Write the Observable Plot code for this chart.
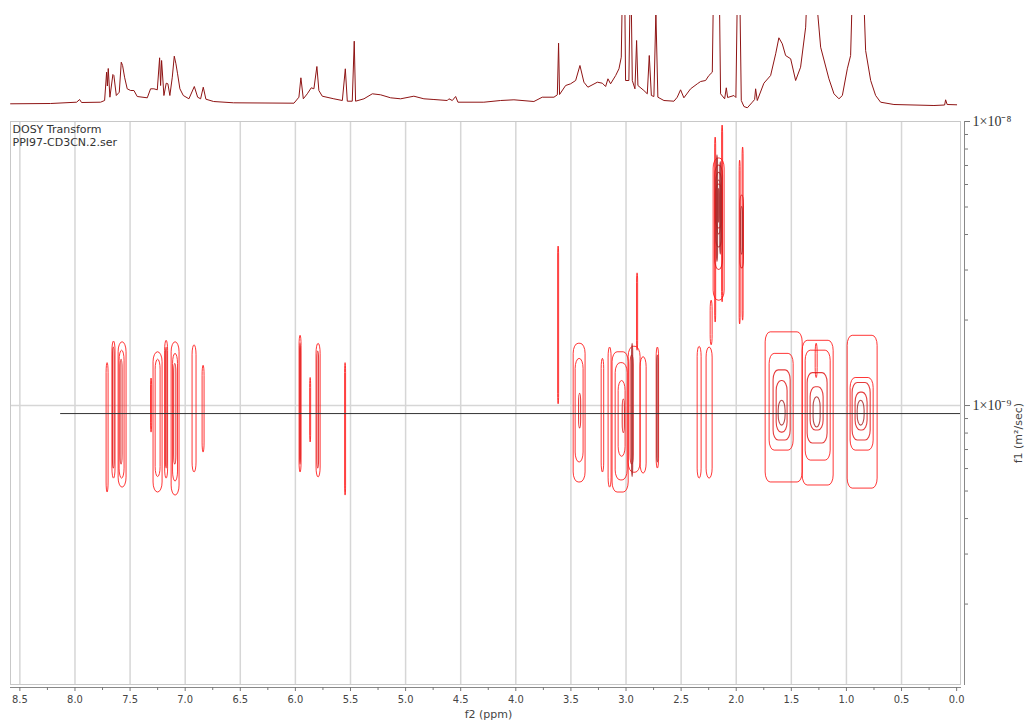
<!DOCTYPE html>
<html><head><meta charset="utf-8">
<script src="https://cdn.jsdelivr.net/npm/d3@7"></script>
<script src="https://cdn.jsdelivr.net/npm/@observablehq/plot@0.6"></script>
<style>
body{margin:0;background:#fff;}
#wrap{position:relative;width:1027px;height:722px;overflow:hidden;background:#fff;}
#top{position:absolute;left:0;top:0;}
#main{position:absolute;left:0;top:100px;}
</style></head><body><div id="wrap"><div id="top"></div><div id="main"></div></div>
<script>
// ---- 1D projection spectrum (f2 ppm, relative intensity) ----
const spectrumPpm = [8.584,8.221,7.985,7.958,7.940,7.768,7.731,7.713,7.706,7.698,7.683,7.656,7.647,7.625,7.598,7.580,7.568,7.550,7.526,7.495,7.465,7.435,7.344,7.314,7.284,7.253,7.232,7.223,7.214,7.193,7.172,7.157,7.139,7.117,7.099,7.084,7.069,7.048,7.017,6.966,6.917,6.887,6.860,6.836,6.812,6.742,6.561,6.013,5.968,5.950,5.928,5.892,5.856,5.832,5.805,5.787,5.756,5.651,5.574,5.547,5.529,5.484,5.466,5.454,5.378,5.302,5.227,5.136,5.045,4.925,4.834,4.743,4.622,4.607,4.576,4.546,4.525,4.290,4.138,4.017,3.836,3.760,3.654,3.623,3.612,3.603,3.548,3.503,3.457,3.418,3.382,3.346,3.260,3.215,3.185,3.164,3.140,3.094,3.064,3.043,3.028,3.015,3.004,2.974,2.958,2.943,2.919,2.904,2.892,2.838,2.807,2.789,2.770,2.747,2.729,2.711,2.656,2.565,2.535,2.505,2.475,2.414,2.353,2.323,2.278,2.248,2.217,2.202,2.180,2.157,2.142,2.105,2.090,2.078,2.021,2.003,1.985,1.972,1.954,1.930,1.899,1.854,1.833,1.824,1.809,1.749,1.688,1.642,1.613,1.582,1.552,1.506,1.461,1.416,1.370,1.343,1.307,1.234,1.159,1.113,1.068,1.037,0.992,0.962,0.937,0.856,0.826,0.780,0.735,0.690,0.569,0.206,0.109,0.100,0.086,0.000];
const spectrumHeight = [0.2,0.5,1.8,4.5,1.5,1.8,3.5,31.8,18,35.5,6.8,29.5,28.5,8.5,11.8,41.8,38.5,26.8,15.2,13.5,13.5,7.5,6.2,15.2,15.2,14.2,46.2,18.5,43.5,8.5,20.8,20.2,8.5,26.8,47.8,40.2,30.2,15.2,8.5,5.2,17.5,6.8,5.2,16.8,4.8,2.5,1.2,0.8,6.8,26.2,5.2,10.2,16.2,15.2,37.5,13.5,7.8,5.2,3.5,35.2,2.8,2.8,62.8,2.8,5.2,10.2,9.2,6.2,5.2,7.8,5.2,4.5,3.5,5.2,3.5,7.5,1.8,1.8,3.5,4.2,2.5,6.8,6.8,9.2,60.8,9.5,18.5,20.2,23.5,38.5,21.8,16.8,21.8,20.8,17.5,25.2,20.2,28.5,35.2,46.8,150,150,23.5,23.5,150,23.5,15.2,63.5,18.5,13.5,10.2,48.5,8.5,7.5,92,6.8,3.5,2.8,6.8,14.2,6.2,15.2,20.2,22.5,23.5,28.5,31.8,150,150,150,10.2,5.2,16.2,6.5,8.5,6.5,150,150,3.5,-2.5,-3.8,1.8,4.5,15.2,3.5,20.8,28.5,50.2,66.2,60.2,48.5,45.2,23.5,36.8,76.8,150,150,56.8,25.2,10.2,5.2,8.5,35.2,48.5,150,150,53.5,23.5,8.5,1.8,-0.5,-1.5,-1,4.2,-0.5,-0.8];

// ---- DOSY contours: [ppm left, ppm right, D high (m2/s), D low (m2/s), contour level] ----
const contourLoops = [
  // 7.7 - 7.5 ppm
  [7.713,7.695,1.41e-9,0.494e-9,1],[7.660,7.632,1.68e-9,0.553e-9,1],[7.655,7.640,1.60e-9,0.60e-9,2],
  [7.604,7.532,1.67e-9,0.514e-9,1],[7.595,7.550,1.56e-9,0.553e-9,1],[7.586,7.568,1.45e-9,0.62e-9,2],
  // 7.3 - 6.8 ppm
  [7.310,7.300,1.245e-9,0.803e-9,1],[7.287,7.205,1.54e-9,0.494e-9,1],[7.268,7.223,1.45e-9,0.56e-9,1],
  [7.182,7.155,1.69e-9,0.553e-9,1],[7.175,7.162,1.60e-9,0.60e-9,2],[7.123,7.051,1.67e-9,0.482e-9,1],
  [7.110,7.065,1.52e-9,0.54e-9,1],[7.100,7.080,1.40e-9,0.62e-9,2],[6.933,6.897,1.63e-9,0.581e-9,1],
  [6.842,6.824,1.38e-9,0.683e-9,1],
  // 6.0 - 5.5 ppm
  [5.962,5.944,1.76e-9,0.581e-9,1],[5.957,5.949,1.65e-9,0.62e-9,2],[5.866,5.857,1.25e-9,0.741e-9,1],
  [5.808,5.771,1.65e-9,0.558e-9,1],[5.800,5.785,1.55e-9,0.60e-9,2],[5.549,5.540,1.41e-9,0.482e-9,1],
  // 3.6 - 2.2 ppm
  [3.616,3.607,3.63e-9,1.01e-9,1],[3.475,3.367,1.65e-9,0.536e-9,1],[3.457,3.385,1.46e-9,0.630e-9,1],
  [3.426,3.407,1.10e-9,0.830e-9,2],[3.221,3.198,1.46e-9,0.581e-9,1],[3.158,3.131,1.60e-9,0.514e-9,1],
  [3.122,2.976,1.54e-9,0.494e-9,1],[3.094,2.985,1.41e-9,0.545e-9,1],[3.067,3.004,1.22e-9,0.66e-9,1],
  [3.030,3.010,1.05e-9,0.80e-9,2],[2.976,2.868,1.61e-9,0.58e-9,1],[2.958,2.930,1.50e-9,0.62e-9,2],
  [2.945,2.935,1.65e-9,0.56e-9,3],[2.900,2.890,2.92e-9,1.56e-9,1],[2.868,2.813,1.48e-9,0.576e-9,1],
  [2.722,2.700,1.60e-9,0.600e-9,1],[2.717,2.705,1.50e-9,0.63e-9,3],[2.350,2.314,1.61e-9,0.553e-9,1],
  [2.269,2.214,1.60e-9,0.553e-9,1],[2.232,2.214,2.34e-9,1.63e-9,1],
  // 2.2 ppm (fast diffusing)
  [2.191,2.182,8.78e-9,1.96e-9,1],[2.128,2.119,9.68e-9,2.31e-9,1],[2.205,2.105,7.41e-9,2.34e-9,1],
  [2.190,2.120,7.0e-9,3.0e-9,2],[2.185,2.125,6.0e-9,4.2e-9,2],[2.180,2.130,6.6e-9,3.6e-9,3],
  [2.175,2.165,7.6e-9,3.2e-9,3],[2.145,2.135,7.2e-9,3.4e-9,3],[2.170,2.140,6.2e-9,4.0e-9,3],
  [2.160,2.150,5.8e-9,4.4e-9,3],
  // 1.97 ppm
  [1.969,1.960,7.28e-9,1.93e-9,1],[1.942,1.933,8.10e-9,1.99e-9,1],[1.962,1.930,5.49e-9,3.04e-9,2],
  [1.955,1.938,5.0e-9,3.4e-9,3],
  // 1.6 ppm
  [1.733,1.397,1.81e-9,0.536e-9,1],[1.697,1.479,1.52e-9,0.694e-9,1],[1.661,1.506,1.33e-9,0.753e-9,2],
  [1.633,1.534,1.22e-9,0.803e-9,2],[1.615,1.552,1.04e-9,0.850e-9,3],
  // 1.3 ppm
  [1.397,1.116,1.69e-9,0.523e-9,1],[1.370,1.143,1.56e-9,0.640e-9,1],[1.352,1.171,1.30e-9,0.735e-9,2],
  [1.325,1.207,1.16e-9,0.817e-9,2],[1.298,1.234,1.07e-9,0.837e-9,3],[1.279,1.261,1.65e-9,1.25e-9,1],
  // 0.9 ppm
  [0.989,0.717,1.76e-9,0.510e-9,1],[0.962,0.753,1.25e-9,0.694e-9,1],[0.944,0.780,1.20e-9,0.753e-9,2],
  [0.917,0.808,1.11e-9,0.817e-9,2],[0.898,0.835,1.04e-9,0.850e-9,3]
];

// horizontal cursor line: [ppm from, ppm to, D]
const cursorLine = [[8.13, -0.035, 0.937e-9]];

// axes
const xDomain = [8.585, -0.035];
const yDomain = [1.042e-10, 1e-8];
const xMajorTicks = [8.5,8.0,7.5,7.0,6.5,6.0,5.5,5.0,4.5,4.0,3.5,3.0,2.5,2.0,1.5,1.0,0.5,0.0];
const xMinorTicks = [8.25,7.75,7.25,6.75,6.25,5.75,5.25,4.75,4.25,3.75,3.25,2.75,2.25,1.75,1.25,0.75,0.25];
const xGridTicks = [8.5,8.0,7.5,7.0,6.5,6.0,5.5,5.0,4.5,4.0,3.5,3.0,2.5,2.0,1.5,1.0,0.5];
const yMajorTicks = [1e-8, 1e-9];
const yMajorLabels = ["1×10⁻⁸", "1×10⁻⁹"];
const yMinorTicks = [9e-9,8e-9,7e-9,6e-9,5e-9,4e-9,3e-9,2e-9,9e-10,8e-10,7e-10,6e-10,5e-10,4e-10,3e-10,2e-10];
const infoText = ["DOSY Transform\nPPI97-CD3CN.2.ser"];
const xLabel = ["f2 (ppm)"];
const yLabel = ["f1 (m²/sec)"];

const spectrum = spectrumPpm.map((p, i) => ({ppm: p, h: spectrumHeight[i]}));
const loops = contourLoops.map(([p1, p2, d1, d2, level]) => ({p1, p2, d1, d2, level}));
const cursor = cursorLine.map(([from, to, D]) => ({from, to, D}));
const levelColors = {1: "#ff1414", 2: "#e01a1a", 3: "#a82828"};

const topPlot = Plot.plot({
  width: 1027, height: 120,
  marginLeft: 10, marginRight: 67, marginTop: 15, marginBottom: 11.5,
  x: {domain: xDomain, axis: null},
  y: {domain: [-5, 88.5], axis: null},
  style: {background: "transparent"},
  marks: [
    Plot.line(spectrum, {x: "ppm", y: "h", stroke: "#8e1414", strokeWidth: 1, clip: true})
  ]
});
document.getElementById("top").appendChild(topPlot);

const loopMarks = [1, 2, 3].map(level =>
  Plot.rect(loops.filter(d => d.level === level), {
    x1: "p1", x2: "p2", y1: "d1", y2: "d2",
    rx: 5, ry: 10, fill: "none",
    stroke: levelColors[level], strokeWidth: level === 1 ? 1 : 1.1, strokeOpacity: 0.85
  })
);

const mainPlot = Plot.plot({
  width: 1027, height: 622,
  marginLeft: 10, marginRight: 67, marginTop: 21, marginBottom: 38,
  x: {domain: xDomain},
  y: {type: "log", domain: yDomain},
  style: {background: "transparent", fontFamily: "'DejaVu Sans Condensed', 'DejaVu Sans', sans-serif", fontSize: "11px", color: "#444"},
  marks: [
    Plot.gridX(xGridTicks, {stroke: "#d6d6d6", strokeOpacity: 1, strokeWidth: 1.5}),
    Plot.gridY([1e-9], {stroke: "#d6d6d6", strokeOpacity: 1, strokeWidth: 1.5}),
    Plot.frame({stroke: "#c8c8c8"}),
    ...loopMarks,
    Plot.ruleY(cursor, {y: "D", x1: "from", x2: "to", stroke: "#333", strokeWidth: 1}),
    Plot.text(infoText, {frameAnchor: "top-left", dx: 2, dy: 2, lineAnchor: "top", textAnchor: "start",
      fontFamily: "'DejaVu Sans', sans-serif", fontSize: 11, fill: "#333", lineHeight: 1.2}),
    Plot.frame({anchor: "bottom", dy: 3, stroke: "#888"}),
    Plot.axisX(xMajorTicks, {anchor: "bottom", dy: 3, tickSize: 4, tickPadding: 4, label: null,
      tickFormat: d => d.toFixed(1), stroke: "#777", fill: "#444"}),
    Plot.axisX(xMinorTicks, {anchor: "bottom", dy: 3, tickSize: 3, label: null, tickFormat: () => "", stroke: "#777"}),
    Plot.text(xLabel, {frameAnchor: "bottom", dy: 33, dx: 3, fontFamily: "'DejaVu Sans', sans-serif", fontSize: 11, fill: "#444"}),
    Plot.frame({anchor: "right", dx: 4, stroke: "#888"}),
    Plot.axisY(yMajorTicks, {anchor: "right", dx: 4, tickSize: 5, tickPadding: 3, label: null,
      tickFormat: d => yMajorLabels[yMajorTicks.indexOf(d)],
      fontFamily: "'Liberation Serif', serif", fontSize: 14, stroke: "#777", fill: "#333"}),
    Plot.axisY(yMinorTicks, {anchor: "right", dx: 4, tickSize: 3, label: null, tickFormat: () => "", stroke: "#777"}),
    Plot.text(yLabel, {frameAnchor: "right", dx: 58, rotate: -90, fontFamily: "'DejaVu Sans', sans-serif", fontSize: 11, fill: "#444"})
  ]
});
document.getElementById("main").appendChild(mainPlot);
</script>
</body></html>
